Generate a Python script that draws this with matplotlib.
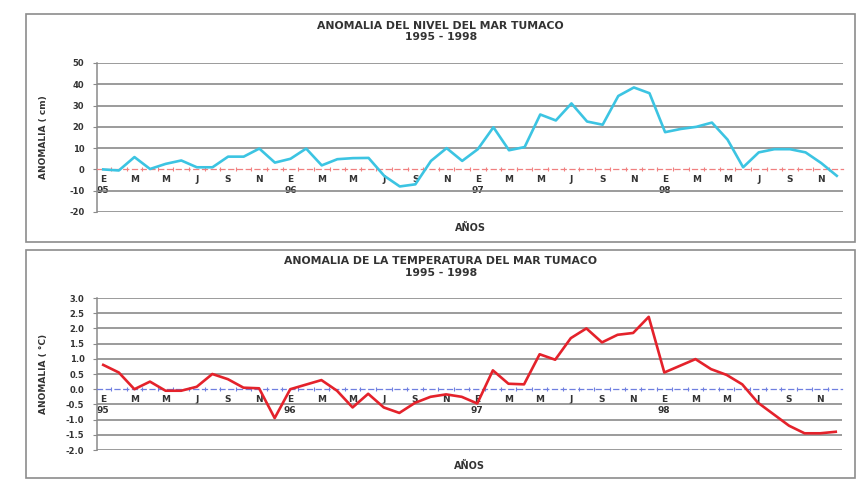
import matplotlib.pyplot as plt
from matplotlib.patches import Rectangle
from matplotlib.ticker import FixedLocator, FormatStrFormatter
import numpy as np

# monthly anomalies, Tumaco, Jan 1995 - Dec 1998
months = np.arange(48)
month_letters = ['E', 'M', 'M', 'J', 'S', 'N']
years = ['95', '96', '97', '98']

nivel = [0.0, -0.5, 5.8, 0.2, 2.6, 4.2, 1.0, 1.0, 6.0, 6.0, 9.8, 3.2,
         5.0, 9.8, 1.9, 4.8, 5.3, 5.4, -3.0, -8.0, -7.0, 4.0, 10.0, 4.0,
         9.5, 19.8, 9.0, 10.5, 25.8, 23.0, 31.0, 22.5, 21.0, 34.5, 38.5, 35.8,
         17.5, 19.0, 20.0, 22.0, 14.0, 1.0, 8.0, 9.5, 9.5, 8.0, 3.0, -3.0]

temperatura = [0.8, 0.55, 0.0, 0.25, -0.05, -0.05, 0.08, 0.5, 0.33, 0.05, 0.03, -0.95,
               0.0, 0.15, 0.3, -0.05, -0.6, -0.15, -0.6, -0.78, -0.45, -0.25, -0.17, -0.25,
               -0.47, 0.62, 0.18, 0.16, 1.15, 0.97, 1.68, 2.0, 1.54, 1.79, 1.85, 2.38,
               0.55, 0.77, 0.99, 0.66, 0.47, 0.16, -0.44, -0.82, -1.2, -1.45, -1.45, -1.4]

nivel_ticks = [-20, -10, 0, 10, 20, 30, 40, 50]
temp_ticks = [-2.0, -1.5, -1.0, -0.5, 0.0, 0.5, 1.0, 1.5, 2.0, 2.5, 3.0]

tick_text = []
for yr in years:
    for i, m in enumerate(month_letters):
        tick_text.append(m + '\n' + yr if i == 0 else m)

plt.rcParams['font.family'] = 'DejaVu Sans'
plt.rcParams['font.weight'] = 'bold'

fig = plt.figure(figsize=(8.59, 4.83), dpi=100)

# chart-area boxes
for (x0, y0, w, h) in [(0.030, 0.499, 0.965, 0.472), (0.030, 0.010, 0.965, 0.472)]:
    fig.patches.append(Rectangle((x0, y0), w, h, transform=fig.transFigure,
                                 fill=False, ec='#8c8c8c', lw=1.2))


def panel(rect, data, color, zero_color, yticks, fmt, ylabel, title, title_y):
    ax = fig.add_axes(rect)
    ax.set_xlim(-0.4, 47.4)
    ax.set_ylim(yticks[0], yticks[-1])
    ax.set_yticks(yticks)
    ax.yaxis.set_major_formatter(FormatStrFormatter(fmt))
    ax.yaxis.grid(True, color='#808080', lw=1.1)
    ax.set_axisbelow(True)
    # the zero level is drawn by the category axis itself
    for tick, val in zip(ax.yaxis.get_major_ticks(), yticks):
        if val == 0:
            tick.gridline.set_visible(False)
    for s in ['top', 'right']:
        ax.spines[s].set_visible(False)
    ax.spines['left'].set_color('#8a8a8a')
    ax.spines['left'].set_linewidth(1.1)

    # category axis crosses at zero
    ax.spines['bottom'].set_position(('data', 0))
    ax.spines['bottom'].set_color(zero_color)
    ax.spines['bottom'].set_linestyle((0, (4, 3)))
    ax.spines['bottom'].set_linewidth(0.9)
    ax.set_xticks(months[::2])
    ax.set_xticklabels(tick_text, fontsize=6.5, fontweight='bold',
                       linespacing=1.3, va='top')
    ax.xaxis.set_minor_locator(FixedLocator(months + 0.5))
    ax.tick_params(axis='x', which='major', length=0, pad=4, colors='#333333')
    ax.tick_params(axis='x', which='minor', length=3, direction='inout',
                   color=zero_color, width=0.8)
    ax.tick_params(axis='y', length=3, color='#8a8a8a', labelsize=6,
                   labelcolor='#333333', pad=6)
    for lab in ax.get_yticklabels():
        lab.set_fontweight('bold')

    ax.plot(months, data, color=color, lw=1.9, zorder=3, clip_on=False)

    ax.set_ylabel(ylabel, fontsize=6.5, fontweight='bold', color='#333333')
    ax.yaxis.set_label_coords(-0.066, 0.5)
    ax.text(0.50, -0.075, 'AÑOS', transform=ax.transAxes, ha='center', va='top',
            fontsize=7, fontweight='bold', color='#333333')
    fig.text(0.513, title_y, title, ha='center', va='top', fontsize=7.8,
             fontweight='bold', color='#333333', linespacing=1.15)
    return ax


ax1 = panel([0.1129, 0.5611, 0.8685, 0.3085], nivel, '#3CC4E2', '#f08080',
            nivel_ticks, '%d', 'ANOMALIA ( cm)',
            'ANOMALIA DEL NIVEL DEL MAR TUMACO\n1995 - 1998', 0.957)
ax2 = panel([0.1129, 0.0683, 0.8673, 0.3147], temperatura, '#E4222B', '#6f7fe0',
            temp_ticks, '%.1f', 'ANOMALIA ( °C)',
            'ANOMALIA DE LA TEMPERATURA DEL MAR TUMACO\n1995 - 1998', 0.469)

fig.savefig('out.png', dpi=100)
